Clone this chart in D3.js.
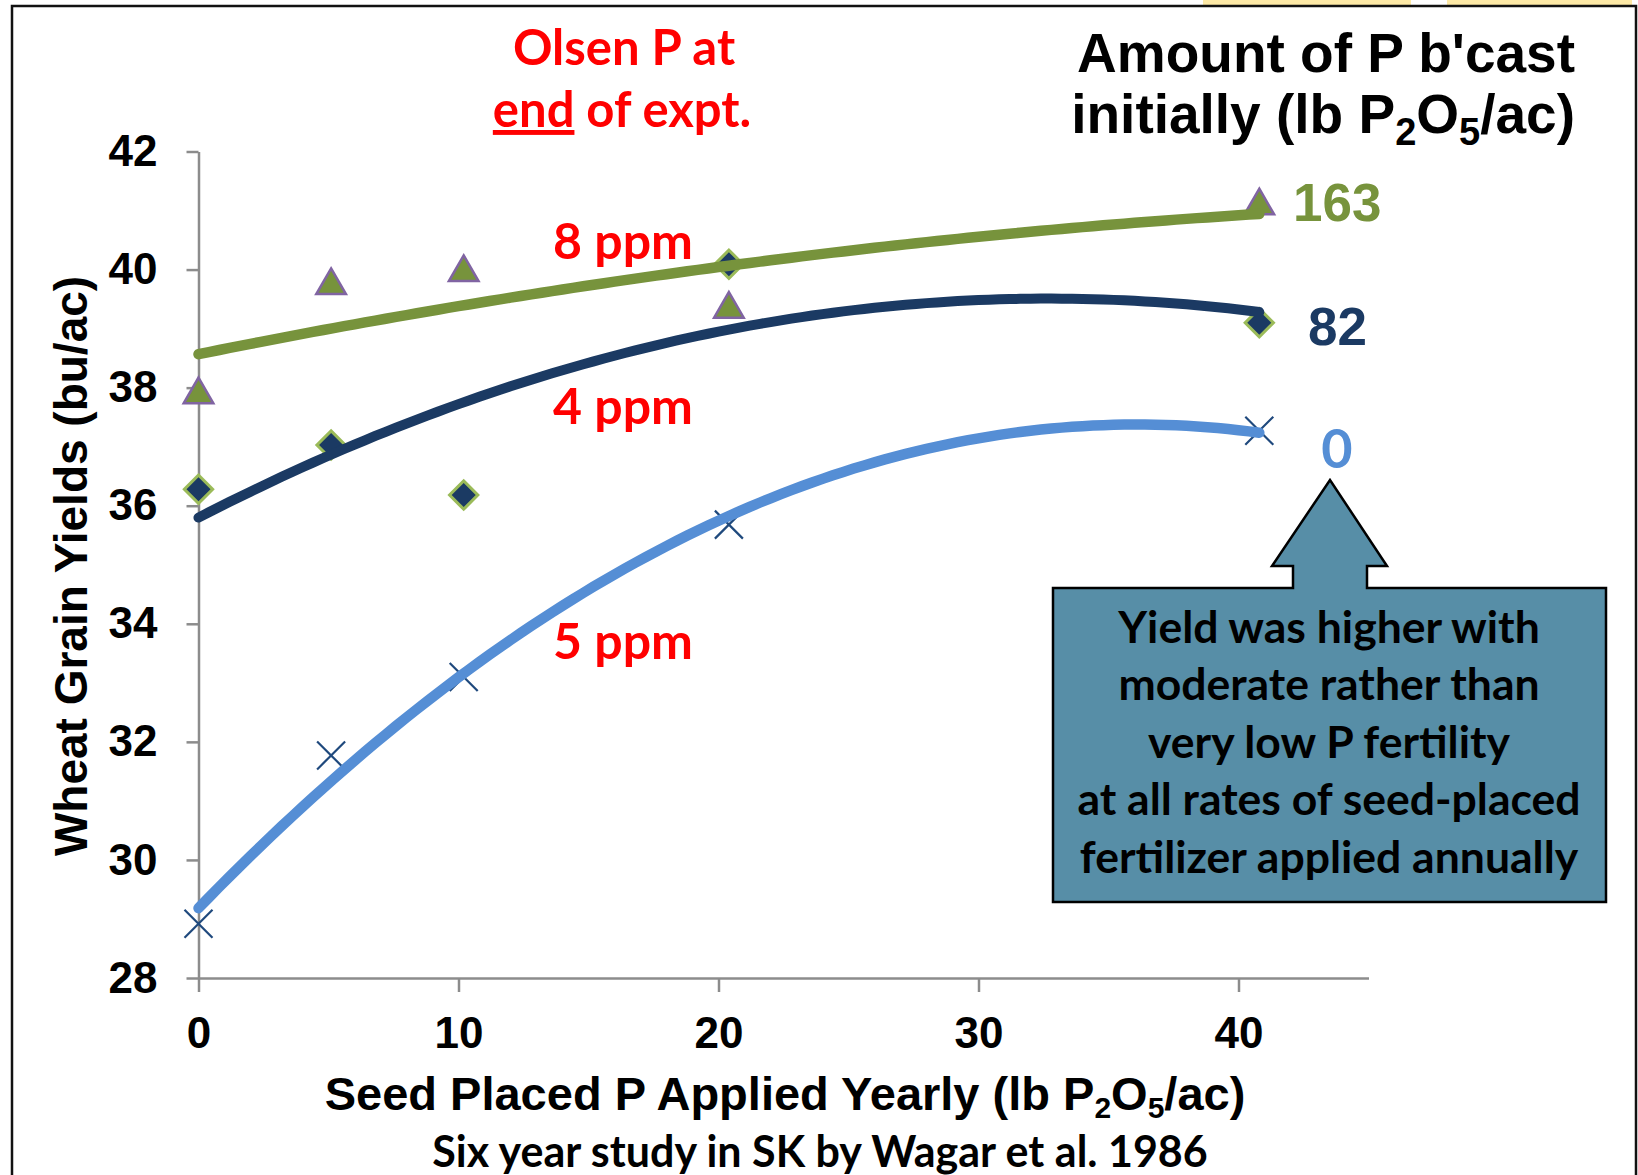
<!DOCTYPE html>
<html>
<head>
<meta charset="utf-8">
<script src="https://cdn.jsdelivr.net/npm/d3@7"></script>
<style>
  body { margin: 0; background: #fff; }
  svg { display: block; }
</style>
</head>
<body>
<div class="container"></div>
<script>
// data
const seedP = [0, 5.1, 10.2, 20.4, 40.8];            // lb P2O5/ac seed placed yearly
const yield0 = [28.92, 31.77, 33.1, 35.68, 37.27];   // 0 lb b'cast
const yield82 = [36.28, 37.03, 36.18, 40.09, 39.1];  // 82 lb b'cast
const yield163 = [37.88, 39.73, 39.95, 39.33, 41.08]; // 163 lb b'cast
const yTicks = [28, 30, 32, 34, 36, 38, 40, 42];
const xTicks = [0, 10, 20, 30, 40];
const ppmLabels = ["8 ppm", "4 ppm", "5 ppm"];
const noteLines = ["Yield was higher with", "moderate rather than", "very low P fertility",
  "at all rates of seed-placed", "fertilizer applied annually"];

const width = 1638;
const height = 1175;
const arial = "'Liberation Sans', Arial, sans-serif";
const calibri = "Lato, 'Open Sans', sans-serif";

const svg = d3.select(".container")
  .append("svg")
  .attr("width", width)
  .attr("height", height);

// slide background bits and frame
svg.append("rect").attr("x", 1203).attr("y", 0).attr("width", 208).attr("height", 6).attr("fill", "#fde9a6");
svg.append("rect").attr("x", 1447).attr("y", 0).attr("width", 185).attr("height", 6).attr("fill", "#fde9a6");
svg.append("path")
  .attr("d", "M12,1175V6H1636V1175")
  .attr("fill", "none")
  .attr("stroke", "#111")
  .attr("stroke-width", 2.5);

// scales
const x = d3.scaleLinear().domain([0, 45]).range([198.5, 1368.5]);
const y = d3.scaleLinear().domain([28, 42]).range([978, 151.5]);

// axes
const yAxis = svg.append("g")
  .attr("transform", `translate(${x(0)},0)`)
  .call(d3.axisLeft(y).tickValues(yTicks).tickSize(12).tickSizeOuter(0).tickPadding(29));

const xAxis = svg.append("g")
  .attr("transform", `translate(0,${y(28)})`)
  .call(d3.axisBottom(x).tickValues(xTicks).tickSize(14).tickSizeOuter(0).tickPadding(25));

[yAxis, xAxis].forEach(g => {
  g.select(".domain").attr("stroke", "#8c8c8c").attr("stroke-width", 2.5);
  g.selectAll(".tick line").attr("stroke", "#8c8c8c").attr("stroke-width", 2.5);
  g.selectAll(".tick text")
    .attr("fill", "#000")
    .style("font-family", arial)
    .style("font-weight", "bold")
    .style("font-size", "44px");
});

// quadratic least squares trendline (like Excel poly order 2)
function quadFit(xs, ys) {
  let s = [0, 0, 0, 0, 0], t = [0, 0, 0];
  xs.forEach((xv, i) => {
    for (let k = 0; k < 5; k++) s[k] += Math.pow(xv, k);
    for (let k = 0; k < 3; k++) t[k] += Math.pow(xv, k) * ys[i];
  });
  let m = [[s[0], s[1], s[2], t[0]], [s[1], s[2], s[3], t[1]], [s[2], s[3], s[4], t[2]]];
  for (let i = 0; i < 3; i++) {
    for (let j = i + 1; j < 3; j++) {
      let f = m[j][i] / m[i][i];
      for (let k = i; k < 4; k++) m[j][k] -= f * m[i][k];
    }
  }
  let c = [0, 0, 0];
  for (let i = 2; i >= 0; i--) {
    let v = m[i][3];
    for (let k = i + 1; k < 3; k++) v -= m[i][k] * c[k];
    c[i] = v / m[i][i];
  }
  return xv => c[0] + c[1] * xv + c[2] * xv * xv;
}

const series = [
  { vals: yield163, line: "#77933c", lw: 10.5, marker: "triangle" },
  { vals: yield82, line: "#1b3a63", lw: 10, marker: "diamond" },
  { vals: yield0, line: "#558ed5", lw: 10.5, marker: "x" }
];

const markers = svg.append("g");
const lines = svg.append("g");

series.forEach(s => {
  const pts = seedP.map((p, i) => ({ p: p, v: s.vals[i] }));
  const g = markers.selectAll(null).data(pts).enter().append("path")
    .attr("transform", d => `translate(${x(d.p)},${y(d.v)})` + (s.marker === "diamond" ? " rotate(45)" : ""));
  if (s.marker === "triangle") {
    g.attr("d", d3.symbol(d3.symbolTriangle, 380))
      .attr("fill", "#77933c").attr("stroke", "#8064a2").attr("stroke-width", 2.5);
  } else if (s.marker === "diamond") {
    g.attr("d", d3.symbol(d3.symbolSquare, 400))
      .attr("fill", "#1b3a63").attr("stroke", "#9bbb59").attr("stroke-width", 3);
  } else {
    g.attr("d", "M-14,-14L14,14M-14,14L14,-14")
      .attr("fill", "none").attr("stroke", "#1f497d").attr("stroke-width", 2.2);
  }

  // trendline drawn over the markers
  const f = quadFit(seedP, s.vals);
  const xs = d3.range(0, 40.8001, 0.4);
  lines.append("path")
    .datum(xs)
    .attr("d", d3.line().x(d => x(d)).y(d => y(f(d))))
    .attr("fill", "none")
    .attr("stroke", s.line)
    .attr("stroke-width", s.lw)
    .attr("stroke-linecap", "round");
});

// Olsen P annotations
const red = "#ff0000";
const olsen = svg.append("text")
  .attr("text-anchor", "middle")
  .attr("fill", red)
  .style("font-family", calibri)
  .style("font-weight", "bold")
  .style("font-size", "49px");
olsen.append("tspan").attr("x", 624).attr("y", 65).text("Olsen P at");
const l2 = olsen.append("tspan").attr("x", 622).attr("y", 127);
l2.append("tspan").style("text-decoration", "underline").text("end");
l2.append("tspan").text(" of expt.");

const ppmY = [259, 424, 659];
svg.selectAll(".ppm").data(ppmLabels).enter().append("text")
  .attr("class", "ppm")
  .attr("x", 623)
  .attr("y", (d, i) => ppmY[i])
  .attr("text-anchor", "middle")
  .attr("fill", red)
  .style("font-family", calibri)
  .style("font-weight", "bold")
  .style("font-size", "50px")
  .text(d => d);

// legend-ish title top right
const amt = svg.append("text")
  .attr("text-anchor", "end")
  .attr("fill", "#000")
  .style("font-family", arial)
  .style("font-weight", "bold")
  .style("font-size", "55px");
amt.append("tspan").attr("x", 1575).attr("y", 72).text("Amount of P b'cast");
const a2 = amt.append("tspan").attr("x", 1575).attr("y", 133);
a2.append("tspan").text("initially (lb P");
a2.append("tspan").attr("dy", 12).style("font-size", "38px").text("2");
a2.append("tspan").attr("dy", -12).text("O");
a2.append("tspan").attr("dy", 12).style("font-size", "38px").text("5");
a2.append("tspan").attr("dy", -12).text("/ac)");

// end labels for the series
svg.append("text").attr("x", 1293).attr("y", 221).attr("fill", "#77933c")
  .style("font-family", arial).style("font-weight", "bold").style("font-size", "53px").text("163");
svg.append("text").attr("x", 1308).attr("y", 345).attr("fill", "#1b3a63")
  .style("font-family", arial).style("font-weight", "bold").style("font-size", "53px").text("82");
svg.append("text").attr("x", 1337).attr("y", 468).attr("text-anchor", "middle").attr("fill", "#558ed5")
  .style("font-family", calibri).style("font-weight", "bold").style("font-size", "54px").text("0");

// up arrow callout
svg.append("path")
  .attr("d", "M1053,588H1293V566H1272L1330,480L1387,566H1367V588H1606V902H1053Z")
  .attr("fill", "#578ea7")
  .attr("stroke", "#000")
  .attr("stroke-width", 2.5);

const noteY = [643, 700, 758, 815, 873];
svg.selectAll(".note").data(noteLines).enter().append("text")
  .attr("class", "note")
  .attr("x", 1329)
  .attr("y", (d, i) => noteY[i])
  .attr("text-anchor", "middle")
  .attr("fill", "#000")
  .style("font-family", calibri)
  .style("font-weight", "bold")
  .style("font-size", "44.5px")
  .text(d => d);

// axis titles
svg.append("text")
  .attr("transform", "translate(87,566) rotate(-90)")
  .attr("text-anchor", "middle")
  .attr("fill", "#000")
  .style("font-family", arial)
  .style("font-weight", "bold")
  .style("font-size", "46px")
  .text("Wheat Grain Yields (bu/ac)");

const xt = svg.append("text")
  .attr("x", 785)
  .attr("y", 1110)
  .attr("text-anchor", "middle")
  .attr("fill", "#000")
  .style("font-family", arial)
  .style("font-weight", "bold")
  .style("font-size", "47px");
xt.append("tspan").text("Seed Placed P Applied Yearly (lb P");
xt.append("tspan").attr("dy", 8).style("font-size", "30px").text("2");
xt.append("tspan").attr("dy", -8).text("O");
xt.append("tspan").attr("dy", 8).style("font-size", "30px").text("5");
xt.append("tspan").attr("dy", -8).text("/ac)");

svg.append("text")
  .attr("x", 820)
  .attr("y", 1167)
  .attr("text-anchor", "middle")
  .attr("fill", "#000")
  .style("font-family", calibri)
  .style("font-weight", "bold")
  .style("font-size", "43px")
  .text("Six year study in SK by Wagar et al. 1986");
</script>
</body>
</html>
